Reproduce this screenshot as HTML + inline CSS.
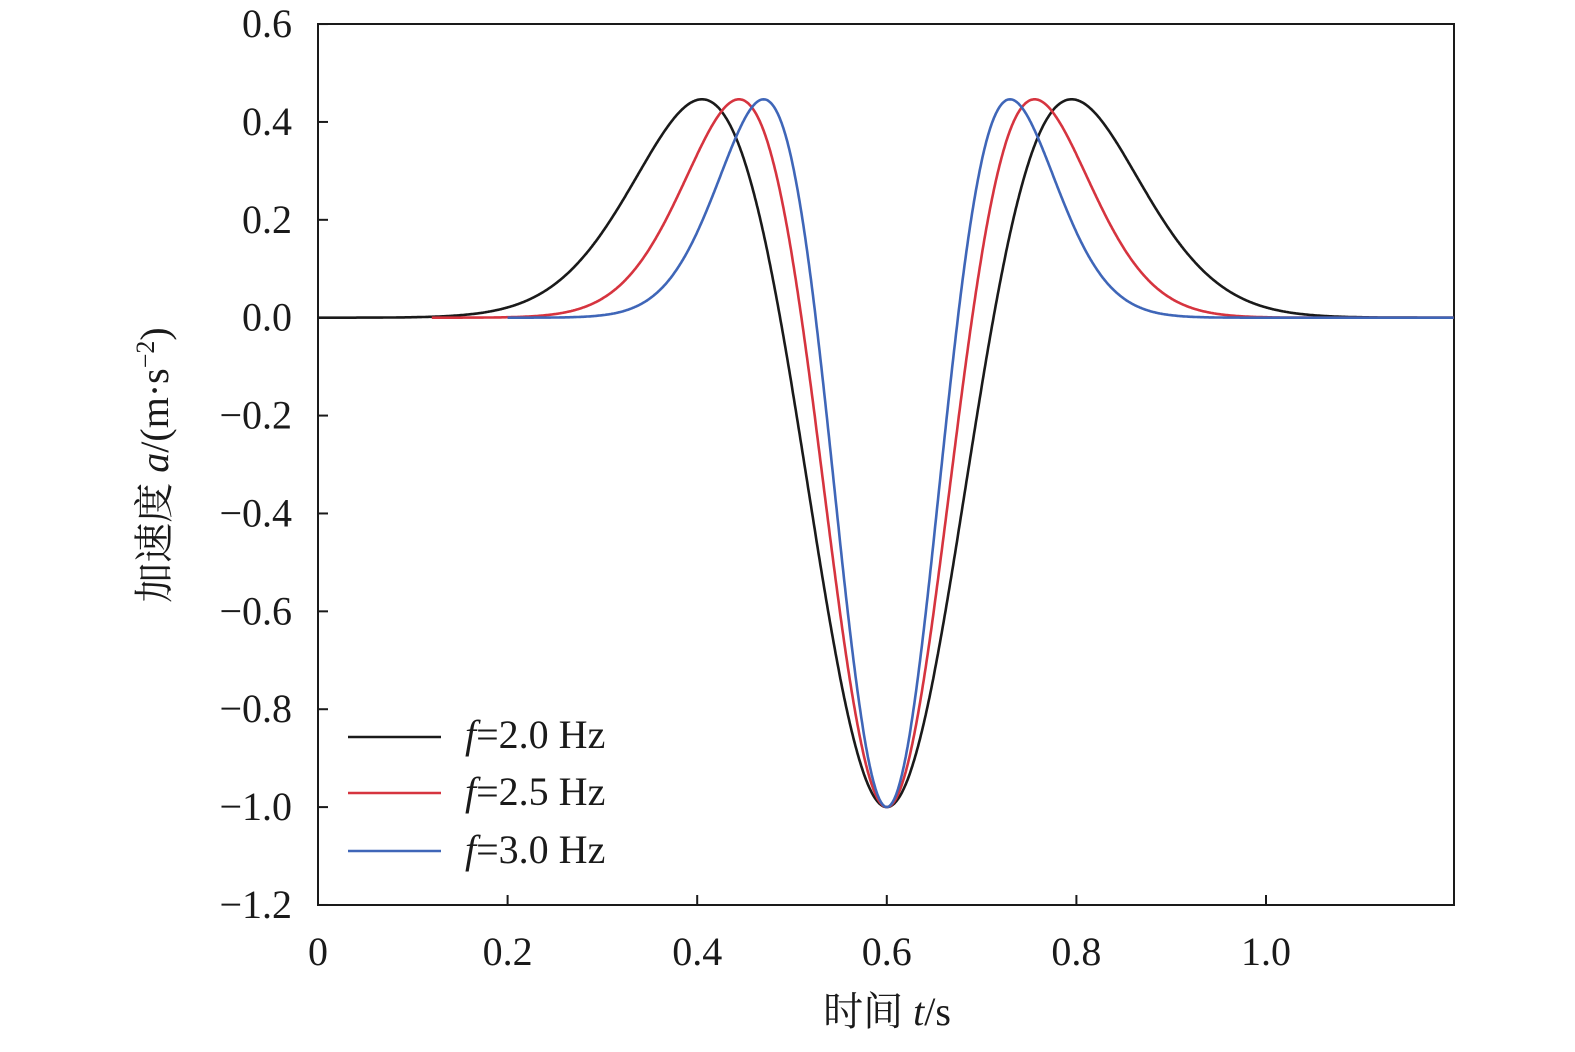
<!DOCTYPE html>
<html><head><meta charset="utf-8"><style>
body{margin:0;background:#fff}
text{font-family:"Liberation Serif","Noto Serif CJK SC",serif;fill:#1a1a1a}
</style></head><body>
<svg id="s" width="1575" height="1047" xmlns="http://www.w3.org/2000/svg">
<rect x="318" y="24" width="1136" height="881" fill="none" stroke="#1a1a1a" stroke-width="2"/>
<g id="ticks" stroke="#1a1a1a" stroke-width="2"></g>
<g id="curves" fill="none" stroke-width="2.6"></g>
<g font-size="40" text-anchor="end" id="yl"></g>
<g font-size="40" text-anchor="middle" id="xl"></g>
<text x="887" y="1025" font-size="40" text-anchor="middle">时间 <tspan font-style="italic">t</tspan>/s</text>
<text transform="translate(168,465) rotate(-90)" font-size="40" text-anchor="middle">加速度 <tspan font-style="italic">a</tspan>/(m·s<tspan font-size="26" dy="-14">−2</tspan><tspan dy="14">)</tspan></text>
<g stroke-width="2.6">
<line x1="348" y1="737" x2="441" y2="737" stroke="#1a1a1a"/>
<line x1="348" y1="793" x2="441" y2="793" stroke="#d6343f"/>
<line x1="348" y1="851" x2="441" y2="851" stroke="#3f66b8"/>
</g>
<g font-size="40">
<text x="465" y="748"><tspan font-style="italic">f</tspan>=2.0 Hz</text>
<text x="465" y="805"><tspan font-style="italic">f</tspan>=2.5 Hz</text>
<text x="465" y="863"><tspan font-style="italic">f</tspan>=3.0 Hz</text>
</g>
</svg>
<script>
var NS="http://www.w3.org/2000/svg";
function X(t){return 318+948*t}
function Y(v){return 317.7-489.4*v}
function el(p,n,a,txt){var e=document.createElementNS(NS,n);for(var k in a)e.setAttribute(k,a[k]);if(txt)e.textContent=txt;document.getElementById(p).appendChild(e);}
var yv=[0.6,0.4,0.2,0,-0.2,-0.4,-0.6,-0.8,-1.0,-1.2];
yv.forEach(function(v){var y=Y(v);el("ticks","line",{x1:318,y1:y,x2:328,y2:y});
el("yl","text",{x:292,y:y+13},(v<0?"−":"")+Math.abs(v).toFixed(1));});
[0,0.2,0.4,0.6,0.8,1.0].forEach(function(t){var x=X(t);el("ticks","line",{x1:x,y1:905,x2:x,y2:895});
el("xl","text",{x:x,y:965},t==0?"0":t.toFixed(1));});
[[2,0,"#1a1a1a"],[2.5,0.12,"#d6343f"],[3,0.2,"#3f66b8"]].forEach(function(c){
var f=c[0],d="";for(var t=c[1];t<=1.1985;t+=0.001){var u=Math.PI*Math.PI*f*f*(t-0.6)*(t-0.6);var a=-(1-2*u)*Math.exp(-u);
d+=(d?"L":"M")+X(t).toFixed(1)+","+Y(a).toFixed(1);}
el("curves","path",{d:d,stroke:c[2]});});
</script>
</body></html>
